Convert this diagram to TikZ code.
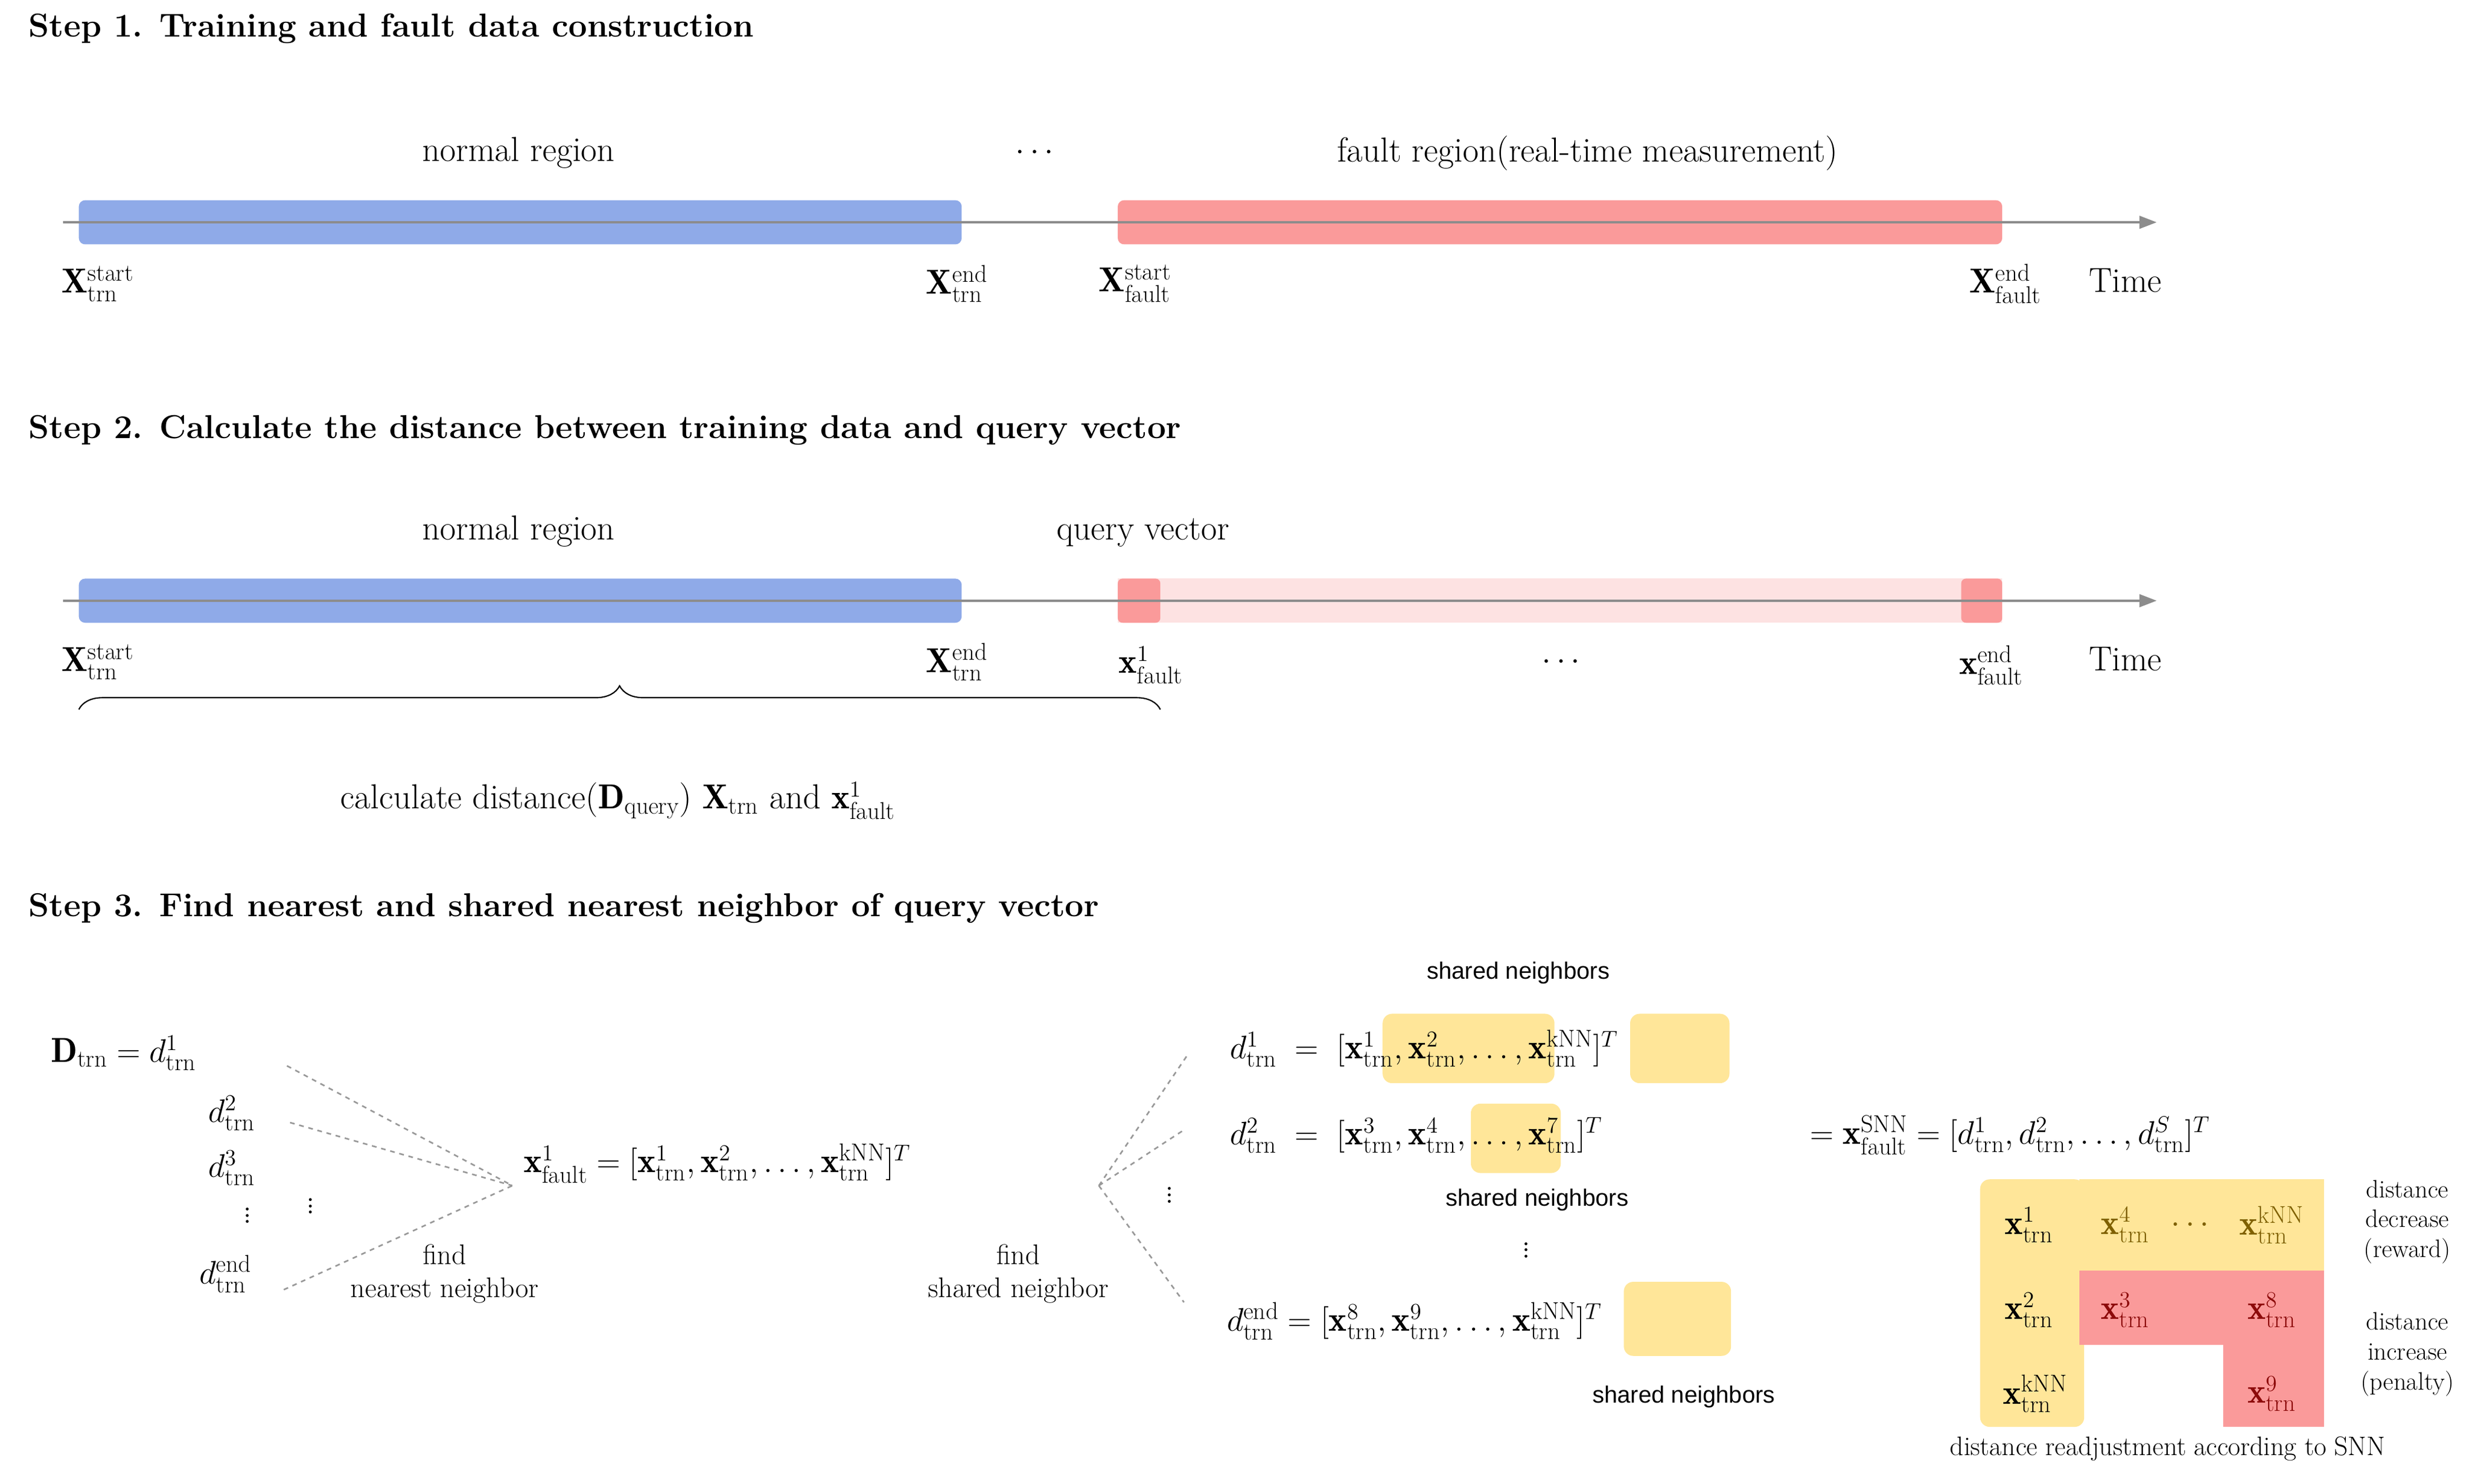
\documentclass[tikz,border=0pt]{standalone}
\usepackage{fontspec}
\usepackage{amsmath}
\newfontfamily\sansf{Liberation Sans}
\usetikzlibrary{decorations.pathreplacing,arrows.meta}
\definecolor{bbar}{RGB}{143,170,232}
\definecolor{rbar}{RGB}{250,154,154}
\definecolor{pbar}{RGB}{253,226,226}
\definecolor{ylw}{RGB}{255,230,153}
\definecolor{brn}{RGB}{127,96,0}
\definecolor{dred}{RGB}{140,10,10}
\newcommand{\xt}[1]{\mathbf{x}^{#1}_{\mathrm{trn}}}
\newcommand{\dt}[1]{d^{#1}_{\mathrm{trn}}}
\begin{document}
\begin{tikzpicture}[x=1pt,y=-1pt,
  mytxt/.style={font=\fontsize{22}{26}\selectfont, inner sep=0pt},
  mystp/.style={font=\fontsize{21}{25}\selectfont\bfseries, anchor=west, inner sep=0pt},
  mymth/.style={font=\fontsize{22}{26}\selectfont, inner sep=0pt},
  mysmall/.style={font=\fontsize{15}{18}\selectfont\sansf, inner sep=0pt},
  myside/.style={font=\fontsize{16}{19}\selectfont, align=center, inner sep=0pt},
  myaxis/.style={draw=gray!90, line width=1.5pt, -{Triangle[length=11pt,width=8pt]}},
  mydsh/.style={draw=gray!80, dashed, line width=1pt},
  myhl/.style={fill=ylw, rounded corners=6pt, draw=none}]
\useasboundingbox (0,0) rectangle (1568,941);
% Step 1
\node[mystp] (s1) at (18,18) {Step 1. Training and fault data construction};
\fill[bbar, rounded corners=4pt] (50,127) rectangle (610,155);
\fill[rbar, rounded corners=4pt] (709,127) rectangle (1270,155);
\coordinate (a1s) at (40,141); \coordinate (a1e) at (1368,141);
\draw[myaxis] (a1s) -- (a1e);
\node[mytxt] (n1) at (329,97) {normal region};
\node[mytxt] (d1) at (658,97) {$\cdots$};
\node[mytxt] (f1) at (1007,97) {fault region(real-time measurement)};
\node[mymth] (l1) at (62,180) {$\mathbf{X}^{\mathrm{start}}_{\mathrm{trn}}$};
\node[mymth] (l2) at (607,180) {$\mathbf{X}^{\mathrm{end}}_{\mathrm{trn}}$};
\node[mymth] (l3) at (720,180) {$\mathbf{X}^{\mathrm{start}}_{\mathrm{fault}}$};
\node[mymth] (l4) at (1272,180) {$\mathbf{X}^{\mathrm{end}}_{\mathrm{fault}}$};
\node[mytxt] (t1) at (1348,178) {Time};
% Step 2
\node[mystp] (s2) at (18,273) {Step 2. Calculate the distance between training data and query vector};
\fill[bbar, rounded corners=4pt] (50,367) rectangle (610,395);
\fill[pbar] (709,367) rectangle (1270,395);
\fill[rbar, rounded corners=3pt] (709,367) rectangle (736,395);
\fill[rbar, rounded corners=3pt] (1244,367) rectangle (1270,395);
\coordinate (a2s) at (40,381); \coordinate (a2e) at (1368,381);
\draw[myaxis] (a2s) -- (a2e);
\node[mytxt] (n2) at (329,337) {normal region};
\node[mytxt] (q2) at (725,338) {query vector};
\node[mymth] (m1) at (62,420) {$\mathbf{X}^{\mathrm{start}}_{\mathrm{trn}}$};
\node[mymth] (m2) at (607,420) {$\mathbf{X}^{\mathrm{end}}_{\mathrm{trn}}$};
\node[mymth] (m3) at (730,422) {$\mathbf{x}^{1}_{\mathrm{fault}}$};
\node[mytxt] (m4) at (992,420) {$\cdots$};
\node[mymth] (m5) at (1263,422) {$\mathbf{x}^{\mathrm{end}}_{\mathrm{fault}}$};
\node[mytxt] (t2) at (1348,418) {Time};
\coordinate (b1) at (50,450); \coordinate (b2) at (736,450);
\draw[decorate, decoration={brace, amplitude=15pt, mirror}, line width=0.8pt] (b2) -- (b1);
\node[mytxt] (cd) at (392,508) {calculate distance($\mathbf{D}_{\mathrm{query}}$) $\mathbf{X}_{\mathrm{trn}}$ and $\mathbf{x}^{1}_{\mathrm{fault}}$};
% Step 3
\node[mystp] (s3) at (18,576) {Step 3. Find nearest and shared nearest neighbor of query vector};
\node[mymth, anchor=west] (D) at (32,668) {$\mathbf{D}_{\mathrm{trn}} = \dt{1}$};
\node[mymth] (e2) at (147,706) {$\dt{2}$};
\node[mymth] (e3) at (147,741) {$\dt{3}$};
\node[mymth] (v1) at (157,768) {$\vdots$};
\node[mymth] (v2) at (197,762) {$\vdots$};
\node[mymth] (e4) at (143,808) {$\dt{\mathrm{end}}$};
\coordinate (c1) at (325,752);
\coordinate (p1) at (182,676); \coordinate (p2) at (184,712); \coordinate (p3) at (180,818);
\draw[mydsh] (p1) -- (c1); \draw[mydsh] (p2) -- (c1); \draw[mydsh] (p3) -- (c1);
\node[myside, font=\fontsize{18}{21}\selectfont] (fn) at (282,808) {find\\nearest neighbor};
\node[mymth, anchor=west] (xf) at (332,738) {$\mathbf{x}^{1}_{\mathrm{fault}} = [\xt{1},\xt{2},\dots,\xt{\mathrm{kNN}}]^{T}$};
\coordinate (c2) at (697,752);
\coordinate (r1) at (754,668); \coordinate (r2) at (752,716); \coordinate (r3) at (751,826);
\draw[mydsh] (c2) -- (r1); \draw[mydsh] (c2) -- (r2); \draw[mydsh] (c2) -- (r3);
\node[mymth] (v3) at (742,755) {$\vdots$};
\node[myside, font=\fontsize{18}{21}\selectfont] (fs) at (646,808) {find\\shared neighbor};
% highlights
\fill[myhl] (877,643) rectangle (986,687);
\fill[myhl] (1034,643) rectangle (1097,687);
\fill[myhl] (933,700) rectangle (990,744);
\fill[myhl] (1030,813) rectangle (1098,860);
\node[mysmall] (sn1) at (963,617) {shared neighbors};
\node[mymth, anchor=west] (q1) at (780,665) {$\dt{1} \;=\; [\xt{1},\xt{2},\dots,\xt{\mathrm{kNN}}]^{T}$};
\node[mymth, anchor=west] (q2e) at (780,720) {$\dt{2} \;=\; [\xt{3},\xt{4},\dots,\xt{7}]^{T}$};
\node[mysmall] (sn2) at (975,761) {shared neighbors};
\node[mymth] (v4) at (968,790) {$\vdots$};
\node[mymth, anchor=west] (q3) at (778,838) {$\dt{\mathrm{end}} = [\xt{8},\xt{9},\dots,\xt{\mathrm{kNN}}]^{T}$};
\node[mysmall] (sn3) at (1068,886) {shared neighbors};
\node[mymth, anchor=west] (snn) at (1148,720) {$=\mathbf{x}^{\mathrm{SNN}}_{\mathrm{fault}}= [\dt{1},\dt{2},\dots,\dt{S}]^{T}$};
% table
\fill[ylw, rounded corners=6pt] (1256,748) rectangle (1322,905);
\fill[ylw] (1319,748) rectangle (1474,806);
\fill[rbar] (1319,806) rectangle (1474,853);
\fill[rbar] (1410,853) rectangle (1474,905);
\node[mymth] (g1) at (1287,777) {$\xt{1}$};
\node[mymth, text=brn] (g2) at (1348,777) {$\xt{4}$};
\node[mymth, text=brn] (g3) at (1391,777) {$\cdots$};
\node[mymth, text=brn] (g4) at (1441,777) {$\xt{\mathrm{kNN}}$};
\node[mymth] (g5) at (1287,831) {$\xt{2}$};
\node[mymth, text=dred] (g6) at (1348,831) {$\xt{3}$};
\node[mymth, text=dred] (g7) at (1441,831) {$\xt{8}$};
\node[mymth] (g8) at (1291,884) {$\xt{\mathrm{kNN}}$};
\node[mymth, text=dred] (g9) at (1441,884) {$\xt{9}$};
\node[myside] (rw) at (1527,775) {distance\\decrease\\(reward)};
\node[myside] (pn) at (1527,859) {distance\\increase\\(penalty)};
\node[myside, font=\fontsize{17}{20}\selectfont] (ra) at (1375,919) {distance readjustment according to SNN};
\end{tikzpicture}
\end{document}
